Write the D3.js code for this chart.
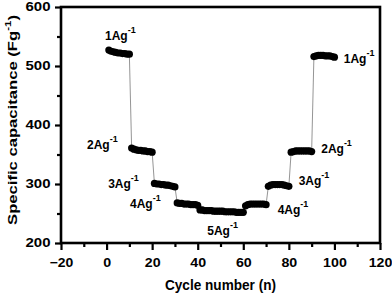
<!DOCTYPE html>
<html>
<head>
<meta charset="utf-8">
<script src="https://cdn.jsdelivr.net/npm/d3@7"></script>
<style>
  html, body { margin: 0; padding: 0; background: #fff; }
  svg { display: block; font-family: "Liberation Sans", Arial, sans-serif; font-weight: bold; }
</style>
</head>
<body>
<svg id="chart" width="392" height="295"></svg>
<script>
// ---- data ----
const cycles = d3.range(1, 101);
const rate1a = [527, 525, 524, 523, 522, 522, 521, 521, 520, 520];
const rate2a = [361, 359, 358, 357, 357, 356, 356, 355, 355, 354];
const rate3a = [301, 300, 300, 299, 299, 298, 298, 297, 296, 295];
const rate4a = [268, 267, 267, 266, 266, 266, 265, 265, 265, 264];
const rate5a = [256, 256, 255, 255, 255, 255, 254, 254, 254, 254, 254, 253, 253, 253, 253, 253, 252, 252, 252, 252];
const rate4b = [263, 265, 266, 266, 266, 266, 266, 266, 266, 265];
const rate3b = [296, 298, 299, 299, 299, 299, 299, 298, 297, 296];
const rate2b = [354, 355, 356, 356, 356, 356, 356, 356, 356, 355];
const rate1b = [516, 517, 518, 518, 518, 517, 517, 517, 516, 515];
const capacitance = [].concat(rate1a, rate2a, rate3a, rate4a, rate5a, rate4b, rate3b, rate2b, rate1b);

const xTicks = [-20, 0, 20, 40, 60, 80, 100, 120];
const xMinor = [-10, 10, 30, 50, 70, 90, 110];
const yTicks = [200, 300, 400, 500, 600];
const yMinor = [250, 350, 450, 550];

const labelText = ["1Ag", "2Ag", "3Ag", "4Ag", "5Ag", "4Ag", "3Ag", "2Ag", "1Ag"];
const labelSup = ["-1", "-1", "-1", "-1", "-1", "-1", "-1", "-1", "-1"];
const labelX = [-0.7, -8.6, 0.7, 10.3, 44.2, 75.1, 84.3, 94.2, 104.1];
const labelY = [544, 359, 293, 259, 213.6, 249, 298.3, 353, 504.6];

const xTitle = "Cycle number (n)";
const yTitleMain = "Specific capacitance (Fg";
const yTitleSup = "-1";

// ---- layout ----
const svg = d3.select("#chart");
const L = 61, R = 380, T = 7, B = 243;
const x = d3.scaleLinear().domain([-20, 120]).range([L, R]);
const y = d3.scaleLinear().domain([200, 600]).range([B, T]);

// connecting line
const pts = cycles.map((c, i) => [c, capacitance[i]]);
svg.append("path")
  .datum(pts)
  .attr("fill", "none")
  .attr("stroke", "#7a7a7a")
  .attr("stroke-width", 0.8)
  .attr("d", d3.line().x(d => x(d[0])).y(d => y(d[1])));

// markers
svg.append("g").selectAll("circle")
  .data(pts).join("circle")
  .attr("cx", d => x(d[0]))
  .attr("cy", d => y(d[1]))
  .attr("r", 3.6)
  .attr("fill", "#000");

// minor ticks
svg.append("g").attr("transform", `translate(0,${B})`)
  .call(d3.axisBottom(x).tickValues(xMinor).tickSize(4).tickSizeOuter(0).tickFormat(""))
  .call(g => g.select(".domain").remove())
  .call(g => g.selectAll("line").attr("stroke-width", 2.2));
svg.append("g").attr("transform", `translate(${L},0)`)
  .call(d3.axisLeft(y).tickValues(yMinor).tickSize(4).tickSizeOuter(0).tickFormat(""))
  .call(g => g.select(".domain").remove())
  .call(g => g.selectAll("line").attr("stroke-width", 2.2));

// major x axis
const xa = svg.append("g").attr("transform", `translate(0,${B})`)
  .call(d3.axisBottom(x).tickValues(xTicks).tickSize(7).tickSizeOuter(0).tickPadding(8).tickFormat(d3.format("d")));
xa.select(".domain").remove();
xa.selectAll("line").attr("stroke-width", 2.2);
xa.selectAll("text")
  .attr("font-size", 13).attr("font-weight", "bold").attr("font-family", "Liberation Sans, Arial, sans-serif")
  .attr("fill", "#000")
  .each(function() {
    const t = this.textContent;
    let w = 0;
    for (const ch of t) w += (ch === "-" ? 4.6 : 7.9);
    d3.select(this).attr("textLength", w).attr("lengthAdjust", "spacingAndGlyphs");
  });

// major y axis
const ya = svg.append("g").attr("transform", `translate(${L},0)`)
  .call(d3.axisLeft(y).tickValues(yTicks).tickSize(6).tickSizeOuter(0).tickPadding(4.5).tickFormat(d3.format("d")));
ya.select(".domain").remove();
ya.selectAll("line").attr("stroke-width", 2.2);
ya.selectAll("text")
  .attr("font-size", 12).attr("font-weight", "bold").attr("font-family", "Liberation Sans, Arial, sans-serif")
  .attr("fill", "#000")
  .attr("textLength", 25).attr("lengthAdjust", "spacingAndGlyphs");

// frame
svg.append("rect")
  .attr("x", L).attr("y", T).attr("width", R - L).attr("height", B - T)
  .attr("fill", "none").attr("stroke", "#000").attr("stroke-width", 2.6);

// rate labels
const lab = svg.append("g").attr("font-size", 12).attr("fill", "#000");
labelText.forEach((t, i) => {
  const tx = lab.append("text").attr("x", x(labelX[i])).attr("y", y(labelY[i]));
  tx.append("tspan").text(t);
  tx.append("tspan").attr("font-size", 9).attr("dy", -7).text(labelSup[i]);
});

// x title
svg.append("text")
  .attr("x", 220.5).attr("y", 290)
  .attr("text-anchor", "middle").attr("font-size", 14)
  .attr("textLength", 111).attr("lengthAdjust", "spacingAndGlyphs")
  .text(xTitle);

// y title
const yt = svg.append("g").attr("transform", "translate(16.7,120) rotate(-90) scale(1.28,1)")
  .append("text").attr("text-anchor", "middle").attr("font-size", 13);
yt.append("tspan").text(yTitleMain);
yt.append("tspan").attr("font-size", 9).attr("dy", -6).text(yTitleSup);
yt.append("tspan").attr("dy", 6).text(")");
</script>
</body>
</html>
